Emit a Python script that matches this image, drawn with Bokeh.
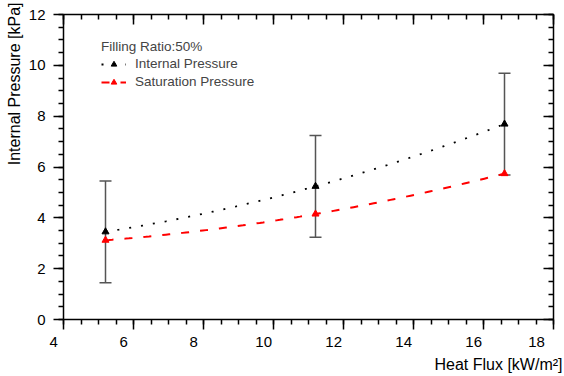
import numpy as np
from bokeh.plotting import figure
from bokeh.models import (LinearAxis, SingleIntervalTicker, Whisker, ColumnDataSource,
                          Legend, LegendItem, Title, TeeHead, Range1d, CustomJSTickFormatter)
from bokeh.embed import file_html
from bokeh.resources import INLINE

# ---- data ----
heat_flux = [5.2, 11.2, 16.6]
internal_pressure = [3.45, 5.24, 7.69]
internal_error = [2.0, 2.0, 2.0]
saturation_pressure = [3.12, 4.15, 5.74]
x_ticks = [4, 6, 8, 10, 12, 14, 16, 18]
x_tick_labels = ["4", "6", "8", "10", "12", "14", "16", "18"]
legend_title = "Filling Ratio:50%"
series_names = ["Internal Pressure", "Saturation Pressure"]
x_title = "Heat Flux [kW/m²]"
y_title = "Internal Pressure [kPa]"

FONT = "Liberation Sans"

p = figure(width=564, height=376, x_range=Range1d(4, 18), y_range=Range1d(0, 12),
           output_backend="svg", toolbar_location=None,
           min_border_left=63, min_border_right=11, min_border_top=14, min_border_bottom=57)
p.grid.visible = False
p.outline_line_color = None
p.background_fill_color = "white"
p.border_fill_color = "white"


def style_axis(ax, inside):
    ax.ticker = SingleIntervalTicker(interval=2, num_minor_ticks=4)
    ax.axis_line_color = "black"
    ax.axis_line_width = 1.5
    ax.major_tick_line_color = "black"
    ax.minor_tick_line_color = "black"
    ax.major_tick_line_width = 1.5
    ax.minor_tick_line_width = 1.5
    if inside:
        ax.major_tick_in, ax.major_tick_out = 10, 0
        ax.minor_tick_in, ax.minor_tick_out = 5, 0
        ax.formatter = CustomJSTickFormatter(code="return ''")
        ax.major_label_standoff = 0
    else:
        ax.major_tick_in, ax.major_tick_out = 0, 10
        ax.minor_tick_in, ax.minor_tick_out = 0, 5
    ax.major_label_text_font = FONT
    ax.major_label_text_font_size = "15px"
    ax.major_label_text_color = "black"


style_axis(p.xaxis[0], False)
style_axis(p.yaxis[0], False)
# the reference prints its x tick labels a little left of each tick
p.xaxis[0].major_label_overrides = {t: lab + "\u2007\u2007\u2009"
                                    for t, lab in zip(x_ticks, x_tick_labels)}
p.xaxis[0].major_label_standoff = 3
p.yaxis[0].major_label_standoff = 8

top = LinearAxis()
style_axis(top, True)
p.add_layout(top, "above")
right = LinearAxis()
style_axis(right, True)
p.add_layout(right, "right")

# ---- smooth trend curves through the data (quadratic fit) ----
xs = np.linspace(min(heat_flux), max(heat_flux), 120)
fit_int = np.polyval(np.polyfit(heat_flux, internal_pressure, 2), xs)
fit_sat = np.polyval(np.polyfit(heat_flux, saturation_pressure, 2), xs)

# error bars
upper = [v + e for v, e in zip(internal_pressure, internal_error)]
lower = [v - e for v, e in zip(internal_pressure, internal_error)]
src = ColumnDataSource(dict(x=heat_flux, upper=upper, lower=lower))
wh = Whisker(base="x", upper="upper", lower="lower", source=src,
             line_color="#555555", line_width=1.5,
             upper_head=TeeHead(size=12, line_color="#555555", line_width=1.5),
             lower_head=TeeHead(size=12, line_color="#555555", line_width=1.5))
p.add_layout(wh)

r_int_line = p.line(xs, fit_int, line_color="black", line_dash="2 10", line_width=1.8)
r_sat_line = p.line(xs, fit_sat, line_color="red", line_dash="8 11", line_width=2)
r_sat_pts = p.scatter(heat_flux, saturation_pressure, marker="triangle", size=7, color="red")
r_int_pts = p.scatter(heat_flux, internal_pressure, marker="triangle", size=7, color="black")

legend = Legend(items=[LegendItem(label=series_names[0], renderers=[r_int_line, r_int_pts]),
                       LegendItem(label=series_names[1], renderers=[r_sat_line, r_sat_pts])],
                title=legend_title, location=(38, 230))
legend.title_text_font = FONT
legend.title_text_font_size = "13.5px"
legend.title_text_font_style = "normal"
legend.title_standoff = 2
legend.label_text_font = FONT
legend.label_text_font_size = "13.5px"
legend.glyph_width = 25
legend.glyph_height = 14
legend.label_height = 14
legend.label_standoff = 9
legend.spacing = 3
legend.padding = 0
legend.margin = 0
legend.background_fill_alpha = 0
legend.border_line_alpha = 0
p.add_layout(legend)

p.add_layout(Title(text=x_title, align="right", offset=-9, standoff=3,
                   text_font=FONT, text_font_size="16px", text_font_style="normal",
                   text_color="black"), "below")
p.add_layout(Title(text=y_title, align="right", offset=-12, standoff=6,
                   text_font=FONT, text_font_size="16px", text_font_style="normal",
                   text_color="black"), "left")

open("out.html", "w").write(file_html(p, INLINE))
